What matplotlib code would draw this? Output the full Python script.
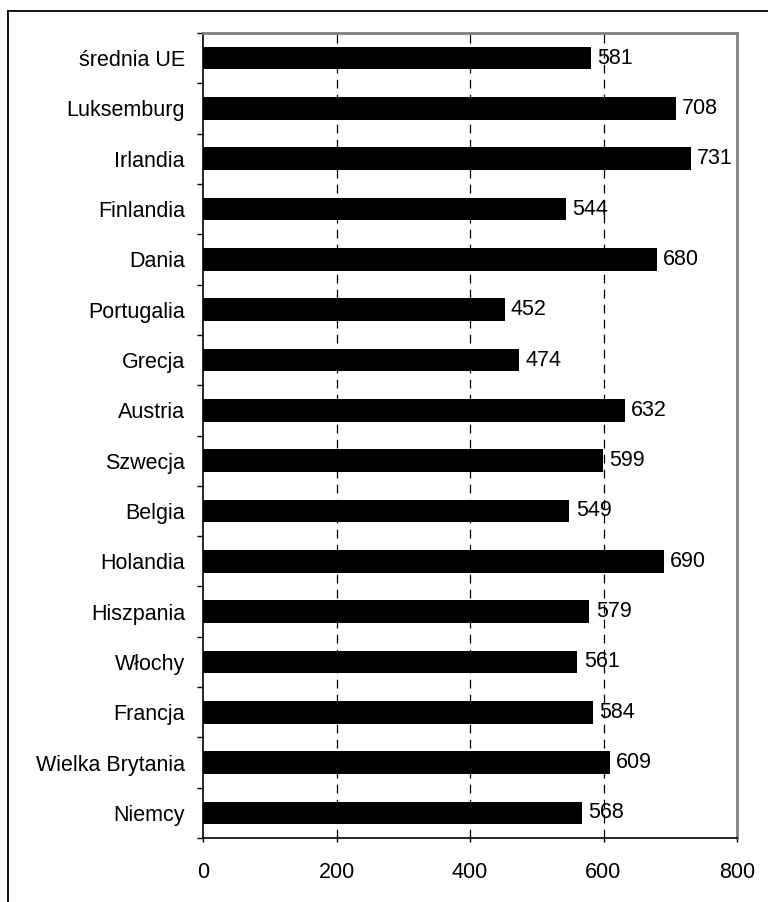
import matplotlib
matplotlib.use("Agg")
import matplotlib.pyplot as plt
from matplotlib.lines import Line2D

categories = ["średnia UE", "Luksemburg", "Irlandia", "Finlandia", "Dania", "Portugalia",
              "Grecja", "Austria", "Szwecja", "Belgia", "Holandia", "Hiszpania",
              "Włochy", "Francja", "Wielka Brytania", "Niemcy"]
values = [581, 708, 731, 544, 680, 452, 474, 632, 599, 549, 690, 579, 561, 584, 609, 568]
xticks = [0, 200, 400, 600, 800]

plt.rcParams['font.family'] = ['Liberation Sans', 'DejaVu Sans']
FS = 15.5

W, H = 768, 902
fig = plt.figure(figsize=(W / 100, H / 100), dpi=100)
left, right, top, bottom = 203, 737, 33, 838
ax = fig.add_axes([left / W, 1 - bottom / H, (right - left) / W, (bottom - top) / H])

pos = list(range(len(categories)))
ax.barh(pos, values, height=0.45, color='black', zorder=3)
ax.set_ylim(len(categories) - 0.5, -0.5)
ax.set_xlim(0, 800)

for p, v in zip(pos, values):
    ax.annotate(f"{v}", xy=(v, p), xytext=(4.5, 0), textcoords='offset points',
                va='center', ha='left', fontsize=FS, zorder=4)

ax.set_xticks(xticks)
ax.set_xticklabels([str(t) for t in xticks], fontsize=FS)
ax.set_yticks(pos)
ax.set_yticklabels(categories, fontsize=FS)
ax.tick_params(axis='y', which='major', length=0, pad=13)
ax.set_yticks([p - 0.5 for p in pos] + [len(pos) - 0.5], minor=True)
ax.tick_params(axis='y', which='minor', length=4, direction='out', width=1)
ax.tick_params(axis='x', which='major', length=3, direction='out', width=1, pad=14)

for g in [200, 400, 600]:
    ax.axvline(g, color='black', linestyle=(0, (7, 5)), linewidth=0.9, zorder=1)

for s in ['left', 'bottom']:
    ax.spines[s].set_color('black')
    ax.spines[s].set_linewidth(1.2)
for s in ['top', 'right']:
    ax.spines[s].set_color('#808080')
    ax.spines[s].set_linewidth(2)

# outer frame
fig.add_artist(Line2D([8 / W, 1.0], [1 - 11 / H, 1 - 11 / H], color='black', linewidth=1.3, transform=fig.transFigure))
fig.add_artist(Line2D([8 / W, 8 / W], [0, 1 - 11 / H], color='black', linewidth=1.3, transform=fig.transFigure))

fig.savefig("out.png", dpi=100)
